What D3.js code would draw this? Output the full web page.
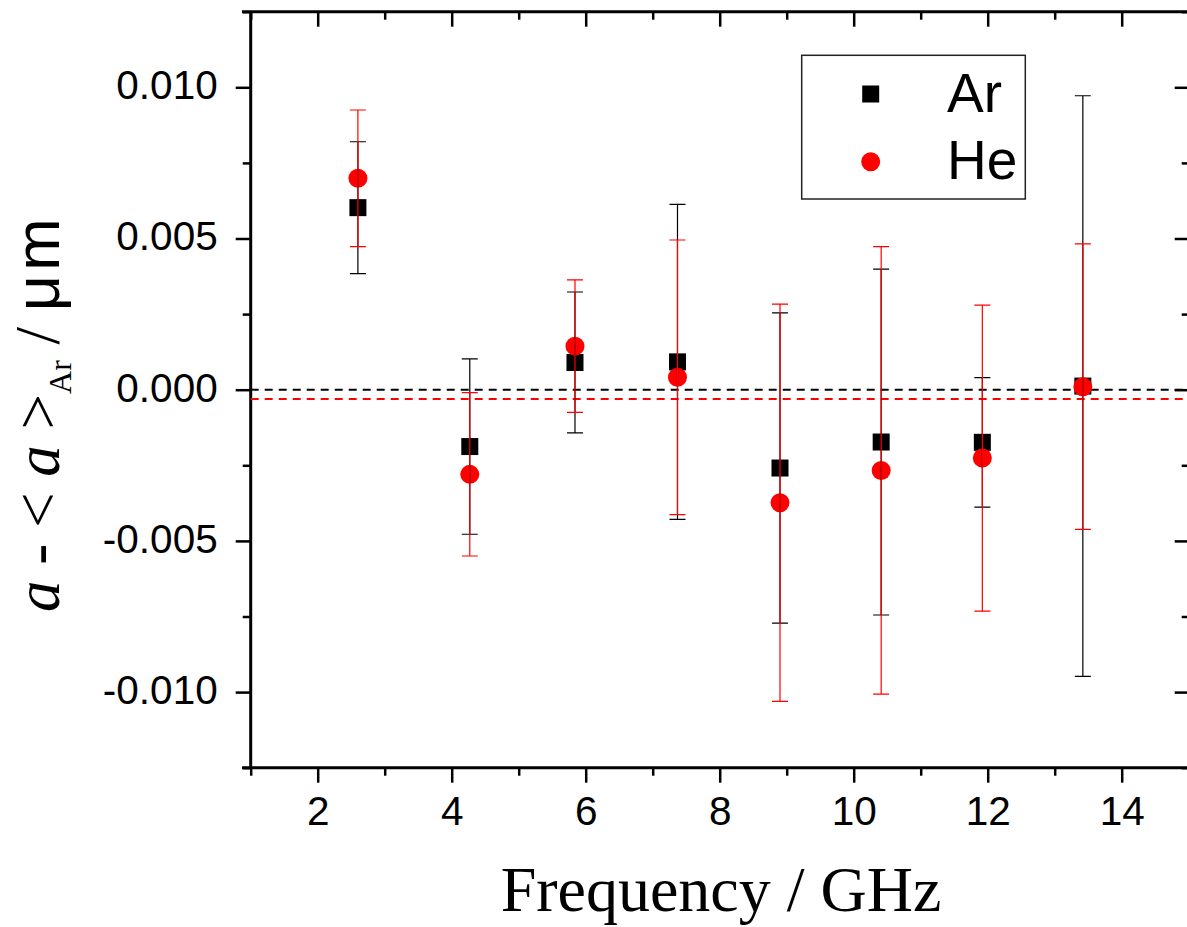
<!DOCTYPE html>
<html>
<head>
<meta charset="utf-8">
<script src="https://cdn.jsdelivr.net/npm/d3@7"></script>
<style>
  html, body { margin: 0; padding: 0; background: #fff; }
  svg { display: block; }
</style>
</head>
<body>
<svg id="chart" width="1187" height="927"></svg>
<script>
// ---- data ----
const frequencies = [2.6, 4.27, 5.84, 7.37, 8.9, 10.41, 11.92, 13.42];
const arValues = [0.00602, -0.00188, 0.0009, 0.00092, -0.00259, -0.00173, -0.00174, 0.00012];
const arErrors = [0.00218, 0.0029, 0.00233, 0.00521, 0.00513, 0.00572, 0.00214, 0.0096];
const heValues = [0.00699, -0.0028, 0.00144, 0.00041, -0.00374, -0.00267, -0.00226, 0.0001];
const heErrors = [0.00226, 0.0027, 0.00219, 0.00454, 0.00657, 0.0074, 0.00506, 0.00472];
const arMean = 0.0;
const heMean = -0.00031;
const xTickValues = [2, 4, 6, 8, 10, 12, 14];
const xTickLabels = ["2", "4", "6", "8", "10", "12", "14"];
const xMinorTicks = [1, 3, 5, 7, 9, 11, 13, 15];
const yTickValues = [-0.01, -0.005, 0, 0.005, 0.01];
const yTickLabels = ["-0.010", "-0.005", "0.000", "0.005", "0.010"];
const yMinorTicks = [-0.0125, -0.0075, -0.0025, 0.0025, 0.0075, 0.0125];
const seriesNames = ["Ar", "He"];

// ---- layout ----
const L = 250.7, R = 1188.7, T = 11.7, B = 767.7;
const svg = d3.select("#chart");
const x = d3.scaleLinear().domain([1, 15]).range([L, R]);
const y = d3.scaleLinear().domain([-0.0125, 0.0125]).range([B, T]);

const sans = "'Liberation Sans', Arial, sans-serif";
const serif = "'Liberation Serif', 'Times New Roman', serif";

function styleAxis(g) {
  g.select(".domain").remove();
  g.selectAll(".tick line").attr("stroke", "#000").attr("stroke-width", 2.5);
  g.selectAll(".tick text").attr("fill", "#000").style("font-family", sans).style("font-size", "40.5px");
}

// bottom major
svg.append("g").attr("transform", `translate(0,${B})`)
  .call(d3.axisBottom(x).tickValues(xTickValues).tickSize(15).tickPadding(14)
    .tickFormat((d, i) => xTickLabels[i]))
  .call(styleAxis)
  .call(g => g.selectAll(".tick text").attr("dy", "0.71em"));
svg.append("g").attr("transform", `translate(0,${B})`)
  .call(d3.axisBottom(x).tickValues(xMinorTicks).tickSize(8).tickFormat(""))
  .call(styleAxis);
// top (inward)
svg.append("g").attr("transform", `translate(0,${T})`)
  .call(d3.axisBottom(x).tickValues(xTickValues).tickSize(15).tickFormat(""))
  .call(styleAxis);
svg.append("g").attr("transform", `translate(0,${T})`)
  .call(d3.axisBottom(x).tickValues(xMinorTicks).tickSize(8).tickFormat(""))
  .call(styleAxis);
// left
svg.append("g").attr("transform", `translate(${L},0)`)
  .call(d3.axisLeft(y).tickValues(yTickValues).tickSize(15).tickPadding(18)
    .tickFormat((d, i) => yTickLabels[i]))
  .call(styleAxis)
  .call(g => g.selectAll(".tick text").attr("dy", "0.28em"));
svg.append("g").attr("transform", `translate(${L},0)`)
  .call(d3.axisLeft(y).tickValues(yMinorTicks).tickSize(8).tickFormat(""))
  .call(styleAxis);
// right (inward)
svg.append("g").attr("transform", `translate(${R},0)`)
  .call(d3.axisLeft(y).tickValues(yTickValues).tickSize(14).tickFormat(""))
  .call(styleAxis);
svg.append("g").attr("transform", `translate(${R},0)`)
  .call(d3.axisLeft(y).tickValues(yMinorTicks).tickSize(7).tickFormat(""))
  .call(styleAxis);

// frame lines
const frame = svg.append("g").attr("stroke", "#000").attr("stroke-width", 3);
frame.append("line").attr("x1", 242).attr("x2", R).attr("y1", T).attr("y2", T);
frame.append("line").attr("x1", 242).attr("x2", R).attr("y1", B).attr("y2", B);
frame.append("line").attr("x1", L).attr("x2", L).attr("y1", T).attr("y2", B);
frame.append("line").attr("x1", R).attr("x2", R).attr("y1", T).attr("y2", B);

// mean lines
svg.append("line").attr("x1", L).attr("x2", 1187).attr("y1", y(arMean)).attr("y2", y(arMean))
  .attr("stroke", "#000").attr("stroke-width", 2).attr("stroke-dasharray", "8,6");
svg.append("line").attr("x1", L).attr("x2", 1187).attr("y1", y(heMean)).attr("y2", y(heMean))
  .attr("stroke", "#ff0000").attr("stroke-width", 2).attr("stroke-dasharray", "8,6");

// markers
const arData = frequencies.map((f, i) => ({ f, v: arValues[i], e: arErrors[i] }));
const heData = frequencies.map((f, i) => ({ f, v: heValues[i], e: heErrors[i] }));
const sq = 17;
svg.append("g").selectAll("rect").data(arData).join("rect")
  .attr("x", d => x(d.f) - sq / 2).attr("y", d => y(d.v) - sq / 2)
  .attr("width", sq).attr("height", sq).attr("fill", "#000");
svg.append("g").selectAll("circle").data(heData).join("circle")
  .attr("cx", d => x(d.f)).attr("cy", d => y(d.v)).attr("r", 9.5).attr("fill", "#ff0000");

// error bars
function errorBars(data, color) {
  const g = svg.append("g").attr("stroke", color).attr("stroke-width", 1.2).attr("fill", "none");
  const cap = 8;
  g.selectAll("path").data(data).join("path")
    .attr("d", d => {
      const cx = x(d.f), yt = y(d.v + d.e), yb = y(d.v - d.e);
      return `M${cx},${yt}V${yb}M${cx - cap},${yt}H${cx + cap}M${cx - cap},${yb}H${cx + cap}`;
    });
}
errorBars(arData, "#000");
errorBars(heData, "#ff0000");

// legend
const lg = svg.append("g");
lg.append("rect").attr("x", 801.7).attr("y", 55.3).attr("width", 223.6).attr("height", 143.7)
  .attr("fill", "#fff").attr("stroke", "#222").attr("stroke-width", 1.5);
lg.append("rect").attr("x", 870.7 - sq / 2).attr("y", 94 - sq / 2).attr("width", sq).attr("height", sq).attr("fill", "#000");
lg.append("circle").attr("cx", 870.7).attr("cy", 161.7).attr("r", 9.5).attr("fill", "#ff0000");
lg.append("text").attr("x", 947).attr("y", 112).text(seriesNames[0])
  .style("font-family", sans).style("font-size", "55px").attr("fill", "#000");
lg.append("text").attr("x", 947).attr("y", 179).text(seriesNames[1])
  .style("font-family", sans).style("font-size", "55px").attr("fill", "#000");

// x title
svg.append("text").attr("x", 721).attr("y", 911).attr("text-anchor", "middle")
  .style("font-family", serif).style("font-size", "64px").attr("fill", "#000")
  .text("Frequency / GHz");

// y title
const yt = svg.append("text").attr("transform", "translate(59,612) rotate(-90)")
  .attr("text-anchor", "start")
  .style("font-family", serif).style("font-size", "63px").attr("fill", "#000");
yt.append("tspan").attr("font-style", "italic").text("a");
yt.append("tspan").text(" - < ");
yt.append("tspan").attr("font-style", "italic").text("a");
yt.append("tspan").text(" >");
yt.append("tspan").attr("dy", 12).style("font-size", "32px").text("Ar");
yt.append("tspan").attr("dy", -12).text(" / ");
yt.append("tspan").style("font-family", sans).style("font-size", "63px")
  .attr("letter-spacing", "4px").text("μm");
</script>
</body>
</html>
